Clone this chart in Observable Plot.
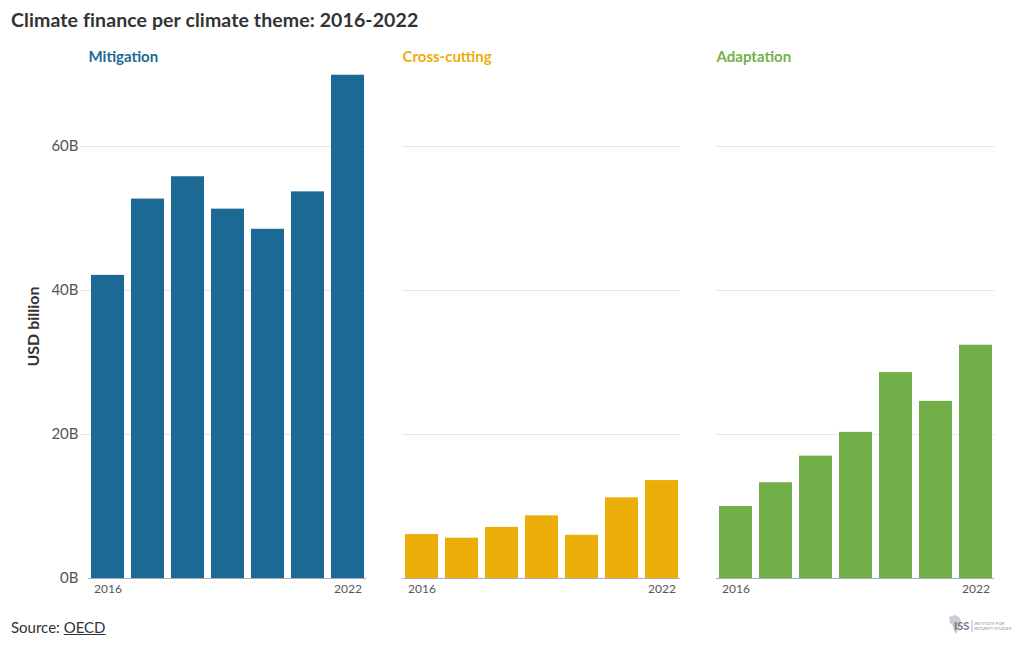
<!DOCTYPE html>
<html>
<head>
<meta charset="utf-8">
<script src="https://cdn.jsdelivr.net/npm/d3@7"></script>
<script src="https://cdn.jsdelivr.net/npm/@observablehq/plot@0.6"></script>
<style>
  html, body { margin: 0; padding: 0; background: #fff; }
  body { width: 1020px; height: 650px; position: relative; font-family: "Source Sans Pro", Lato, "Noto Sans", sans-serif; overflow: hidden; }
  #title { position: absolute; left: 11px; top: 8px; font-size: 19.5px; font-weight: 700; color: #333; letter-spacing: 0.1px; }
  #chart { position: absolute; left: 0; top: 36px; }
  #source { position: absolute; left: 11px; top: 618px; font-size: 15px; color: #333; }
  #source u { text-decoration: underline; }
  #logo { position: absolute; left: 946px; top: 613px; }
  #chart svg [aria-label="y-axis label"] text { font-weight: 700; font-size: 16px; fill: #333; }
</style>
</head>
<body>
<div id="title">Climate finance per climate theme: 2016-2022</div>
<div id="chart"></div>
<div id="source">Source: <u>OECD</u></div>
<div id="logo">
  <svg width="66" height="24" viewBox="0 0 66 24">
    <path d="M3 4 L9 2 L13 4 L15 8 L14 13 L12 17 L10 21 L8 18 L7 13 L4 10 Z" fill="#c9ccd3"/>
    <text x="8" y="17" font-size="11" font-weight="700" fill="#6d7687" font-family="Lato, sans-serif">ISS</text>
    <line x1="26" y1="7" x2="26" y2="19" stroke="#9aa3b2" stroke-width="0.8"/>
    <text x="28" y="12" font-size="4.2" fill="#8a93a3" font-family="Lato, sans-serif">INSTITUTE FOR</text>
    <text x="28" y="17" font-size="4.2" fill="#8a93a3" font-family="Lato, sans-serif">SECURITY STUDIES</text>
  </svg>
</div>
<script>
const years = [2016, 2017, 2018, 2019, 2020, 2021, 2022];
const themes = ["Mitigation", "Cross-cutting", "Adaptation"];
const themeColors = ["#1d6996", "#edad08", "#73af48"];
const mitigation = [42.1, 52.7, 55.8, 51.3, 48.5, 53.7, 69.9];
const crossCutting = [6.1, 5.6, 7.1, 8.7, 6.0, 11.2, 13.6];
const adaptation = [10.0, 13.3, 17.0, 20.3, 28.6, 24.6, 32.4];
const yTicks = [0, 20, 40, 60];
const xTickLabels = [2016, 2022];

const seriesValues = [mitigation, crossCutting, adaptation];
const data = [];
themes.forEach((t, i) => {
  years.forEach((y, j) => data.push({theme: t, year: y, value: seriesValues[i][j]}));
});
const headers = themes.map(t => ({theme: t}));

const plot = Plot.plot({
  width: 1020,
  height: 564,
  marginTop: 38,
  marginBottom: 22,
  marginLeft: 87,
  marginRight: 25,
  style: {fontFamily: '"Source Sans Pro", Lato, "Noto Sans", sans-serif', background: "#fff"},
  fx: {domain: themes, paddingInner: 0.115, paddingOuter: 0, axis: null},
  x: {domain: years, paddingInner: 0.175, paddingOuter: 0.0625},
  y: {domain: [0, 70]},
  color: {domain: themes, range: themeColors},
  marks: [
    Plot.ruleY(yTicks.filter(d => d > 0), {stroke: "#e6e6e6", strokeWidth: 1}),
    Plot.ruleY(yTicks.filter(d => d > 0).map(v => ({theme: "Mitigation", v})), {fx: "theme", y: "v", stroke: "#e6e6e6", strokeWidth: 1, insetLeft: -8}),
    Plot.barY(data, {fx: "theme", x: "year", y: "value", fill: "theme"}),
    Plot.ruleY([0], {stroke: "#a9adb5", strokeWidth: 1}),
    Plot.axisY({
      ticks: yTicks, tickSize: 0, tickPadding: 10, fontSize: 15, color: "#555",
      tickFormat: d => d + "B",
      label: "USD billion", labelAnchor: "center", labelArrow: "none", labelOffset: 61
    }),
    Plot.axisX({ticks: xTickLabels, tickSize: 0, tickPadding: 6, fontSize: 12, color: "#555", label: null, tickFormat: d => String(d)}),
    Plot.text(headers, {fx: "theme", text: "theme", fill: "theme", frameAnchor: "top-left", textAnchor: "start", dy: -23, fontSize: 15, fontWeight: 700})
  ]
});
document.getElementById("chart").appendChild(plot);
</script>
</body>
</html>
